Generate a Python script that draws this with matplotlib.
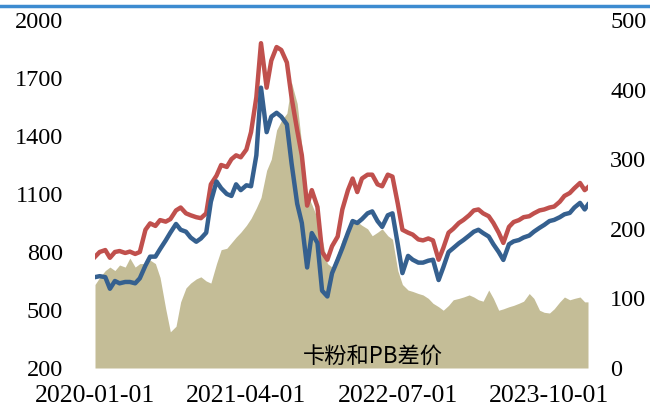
import matplotlib
matplotlib.use("Agg")
import matplotlib.pyplot as plt
import matplotlib.dates as mdates
import pandas as pd
import numpy as np

# semi-monthly observation dates (1st and 15th), 2020-01 .. 2024-01
dates = []
for y in range(2020, 2025):
    for m in range(1, 13):
        if y == 2024 and m > 1:
            break
        dates.append(pd.Timestamp(y, m, 1))
        dates.append(pd.Timestamp(y, m, 15))
dates.append(pd.Timestamp(2024, 1, 25))
dates = pd.to_datetime(dates)

red_price = [775, 800, 810, 770, 800, 805, 795, 802, 790, 800,
             915, 948, 935, 965, 957, 970, 1015, 1030, 1000, 990,
             980, 975, 1000, 1150, 1195, 1250, 1240, 1280, 1300, 1290,
             1330, 1420, 1600, 1880, 1650, 1790, 1860, 1845, 1780, 1600,
             1430, 1300, 1040, 1120, 1033, 800, 760, 830, 880, 1020,
             1120, 1180, 1110, 1180, 1200, 1200, 1150, 1140, 1200, 1190,
             1050, 915, 900, 890, 865, 860, 870, 860, 760, 820,
             900, 920, 950, 966, 990, 1015, 1020, 1000, 985, 950,
             900, 847, 930, 955, 965, 980, 985, 1000, 1015, 1020,
             1030, 1035, 1060, 1090, 1105, 1130, 1157, 1120, 1135]

blue_price = [670, 675, 670, 610, 650, 638, 645, 645, 638, 664,
              730, 776, 776, 815, 860, 900, 945, 915, 905, 875,
              853, 870, 900, 1060, 1165, 1130, 1100, 1090, 1150, 1120,
              1145, 1140, 1300, 1650, 1420, 1500, 1520, 1500, 1460, 1260,
              1050, 950, 720, 898, 847, 600, 570, 690, 760, 820,
              900, 960, 950, 970, 1000, 1010, 960, 930, 990, 1000,
              840, 691, 780, 760, 745, 745, 755, 760, 655, 720,
              800, 820, 845, 862, 885, 905, 915, 898, 880, 840,
              800, 759, 840, 855, 862, 875, 885, 905, 925, 940,
              960, 966, 980, 995, 1002, 1030, 1054, 1020, 1045]

spread = [120, 130, 140, 145, 140, 148, 145, 158, 145, 150,
          150, 155, 150, 130, 85, 52, 60, 95, 115, 122,
          128, 131, 125, 122, 150, 170, 172, 180, 188, 195,
          205, 215, 230, 245, 284, 300, 342, 355, 366, 410,
          380, 320, 250, 235, 215, 185, 150, 145, 165, 185,
          200, 212, 210, 205, 200, 190, 195, 200, 190, 185,
          140, 120, 112, 110, 107, 105, 100, 93, 88, 83,
          90, 98, 100, 102, 105, 102, 98, 96, 112, 100,
          83, 85, 88, 90, 93, 96, 107, 100, 83, 80,
          79, 85, 95, 102, 98, 100, 102, 95, 95]

left_ticks = [200, 500, 800, 1100, 1400, 1700, 2000]
right_ticks = [0, 100, 200, 300, 400, 500]
x_ticks = ["2020-01-01", "2021-04-01", "2022-07-01", "2023-10-01"]
legend_label = "卡粉和PB差价"

plt.rcParams['font.family'] = ['Liberation Serif', 'Noto Sans CJK SC', 'DejaVu Sans']

fig = plt.figure(figsize=(6.5, 4.12), dpi=100)
ax = fig.add_axes([95/650, 1-368/412, (588-95)/650, (368-20)/412])
ax2 = ax.twinx()

ax2.fill_between(dates, 0, spread, color='#C4BD97', linewidth=0, zorder=1)
ax2.set_ylim(0, 500)
ax2.set_yticks(right_ticks)

ax.set_zorder(ax2.get_zorder() + 1)
ax.patch.set_visible(False)
ax.plot(dates, red_price, color='#C0504D', linewidth=3.2, solid_joinstyle='round')
ax.plot(dates, blue_price, color='#35608F', linewidth=3.2, solid_joinstyle='round')
ax.set_ylim(200, 2000)
ax.set_yticks(left_ticks)
ax.set_xlim(pd.Timestamp("2020-01-01"), pd.Timestamp("2024-01-25"))
ax.set_xticks(pd.to_datetime(x_ticks))
ax.xaxis.set_major_formatter(mdates.DateFormatter("%Y-%m-%d"))

for a in (ax, ax2):
    for s in a.spines.values():
        s.set_visible(False)
    a.tick_params(length=0, labelsize=17.5)
ax.tick_params(axis='x', labelsize=18.5, pad=12)
ax.tick_params(axis='y', pad=23)
ax2.tick_params(axis='y', pad=16)

fig.text(373/650, 1-357/412, legend_label, ha='center', va='center', fontsize=16,
         family=['Noto Sans CJK SC', 'DejaVu Sans'])
fig.add_artist(plt.Line2D([0, 1], [1-5.5/412, 1-5.5/412], color='#3D8BD0', linewidth=2.5,
                          transform=fig.transFigure))

fig.savefig("out.png", dpi=100)
